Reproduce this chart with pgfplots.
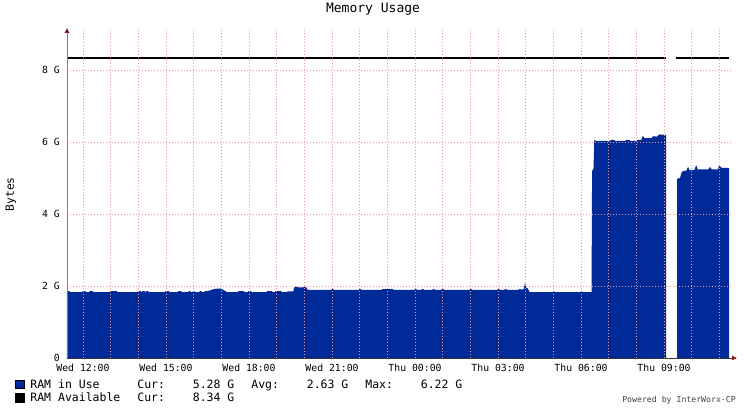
\documentclass[border=0pt]{standalone}
\usepackage{pgfplots}
\pgfplotsset{compat=1.18}
\usepackage{fontspec}
\setmainfont{DejaVu Sans Mono}
\setmonofont{DejaVu Sans Mono}
\usetikzlibrary{arrows.meta}
\definecolor{rrdblue}{RGB}{0,42,151}
\definecolor{gridpink}{RGB}{240,150,150}
\definecolor{arrowred}{RGB}{128,16,16}
\begin{document}
\begin{tikzpicture}
\begin{axis}[
  scale only axis, width=665pt, height=327.6pt,
  xmin=-0.578, xmax=23.457, ymin=0, ymax=9.1,
  axis lines=left,
  axis on top,
  x axis line style={draw=black!80, line width=0.6pt, shorten >=-5pt, -{Latex[length=5pt,width=5pt,color=arrowred]}},
  y axis line style={draw=gray, line width=0.6pt, shorten >=-2.5pt, -{Latex[length=5pt,width=5pt,color=arrowred]}},
  xtick={0,...,23},
  xticklabels={Wed 12:00,,,Wed 15:00,,,Wed 18:00,,,Wed 21:00,,,Thu 00:00,,,Thu 03:00,,,Thu 06:00,,,Thu 09:00,,},
  ytick={0,2,4,6,8},
  yticklabels={0,2 G,4 G,6 G,8 G},
  xmajorgrids, ymajorgrids,
  major grid style={gridpink, line width=0.5pt, dash pattern=on 1pt off 2pt},
  major tick length=0pt,
  xticklabel style={font=\fontsize{9.8}{11}\selectfont, anchor=base, yshift=-13pt, inner sep=0pt},
  yticklabel style={font=\fontsize{9.8}{11}\selectfont, anchor=base east, inner sep=0pt, xshift=-7pt, yshift=-3.3pt},
  title={Memory Usage},
  title style={font=\fontsize{13}{15}\selectfont, at={(axis description cs:0.4602,1.0378)}, anchor=base, inner sep=0pt},
  ylabel={Bytes},
  ylabel style={font=\fontsize{11.3}{13}\selectfont, at={(axis description cs:-0.0842,0.5)}, anchor=center},
  legend style={at={(axis description cs:-0.0782,-0.0656)}, anchor=north west, draw=none, fill=none,
    inner sep=0pt, outer sep=0pt, row sep=1.5pt, column sep=0pt,
    font=\fontsize{11.5}{13}\selectfont,
    nodes={inner sep=0pt, text height=9pt, text depth=3pt, anchor=base west}},
]
\addplot[fill=rrdblue, draw=none, forget plot] table {
x y
-0.578 1.86
-0.50 1.86
-0.45 1.83
-0.05 1.83
0.00 1.86
0.08 1.86
0.12 1.83
0.22 1.83
0.25 1.86
0.35 1.86
0.38 1.83
0.95 1.83
1.00 1.86
1.22 1.86
1.25 1.83
1.97 1.83
2.00 1.86
2.08 1.86
2.11 1.83
2.13 1.83
2.15 1.86
2.22 1.86
2.25 1.83
2.27 1.83
2.28 1.86
2.35 1.86
2.38 1.83
2.95 1.83
2.98 1.86
3.10 1.86
3.13 1.83
3.42 1.83
3.45 1.86
3.54 1.86
3.57 1.83
3.80 1.83
3.83 1.86
3.87 1.86
3.90 1.83
3.95 1.83
3.98 1.86
4.02 1.86
4.05 1.83
4.20 1.83
4.23 1.86
4.28 1.86
4.31 1.83
4.38 1.83
4.41 1.86
4.50 1.86
4.60 1.88
4.75 1.92
4.95 1.93
5.05 1.90
5.15 1.86
5.20 1.83
5.58 1.83
5.62 1.86
5.80 1.86
5.83 1.83
5.95 1.83
5.98 1.86
6.07 1.86
6.10 1.83
6.63 1.83
6.66 1.86
6.83 1.86
6.86 1.83
6.93 1.83
6.96 1.86
7.16 1.86
7.19 1.83
7.36 1.83
7.40 1.85
7.60 1.85
7.63 1.96
7.72 1.98
7.80 1.96
7.95 1.96
8.02 1.98
8.07 1.96
8.12 1.89
8.97 1.89
9.00 1.91
9.05 1.91
9.08 1.89
9.96 1.89
9.99 1.91
10.04 1.91
10.07 1.89
10.78 1.89
10.82 1.91
11.20 1.91
11.24 1.89
11.97 1.89
12.00 1.91
12.05 1.91
12.08 1.89
12.22 1.89
12.25 1.91
12.30 1.91
12.33 1.89
12.62 1.89
12.65 1.91
12.70 1.91
12.73 1.89
12.95 1.89
12.98 1.91
13.03 1.91
13.06 1.89
13.97 1.89
14.00 1.91
14.05 1.91
14.08 1.89
14.97 1.89
15.00 1.91
15.05 1.91
15.08 1.89
15.22 1.89
15.25 1.91
15.30 1.91
15.33 1.89
15.73 1.89
15.76 1.91
15.82 1.91
15.85 1.89
15.93 1.92
15.98 2.09
16.02 1.95
16.08 1.93
16.14 1.83
16.97 1.83
17.00 1.85
17.04 1.85
17.07 1.83
17.97 1.83
18.00 1.85
18.04 1.85
18.07 1.83
18.38 1.83
18.40 5.20
18.45 5.25
18.48 6.06
18.55 6.03
19.05 6.03
19.08 6.06
19.20 6.06
19.23 6.03
19.60 6.03
19.63 6.06
19.75 6.06
19.78 6.03
20.00 6.03
20.05 6.06
20.18 6.06
20.23 6.17
20.30 6.11
20.55 6.11
20.60 6.16
20.75 6.15
20.82 6.21
21.05 6.20
21.08 6.20
} \closedcycle;
\addplot[fill=rrdblue, draw=none, forget plot] table {
x y
21.47 4.98
21.58 5.00
21.63 5.15
21.70 5.20
21.80 5.20
21.87 5.31
21.92 5.22
22.10 5.22
22.16 5.36
22.22 5.24
22.60 5.24
22.66 5.31
22.72 5.24
22.95 5.24
22.99 5.36
23.05 5.30
23.10 5.28
23.35 5.28
} \closedcycle;
\addplot[black, line width=2pt, forget plot] coordinates {(-0.578,8.34) (21.07,8.34)};
\addplot[black, line width=2pt, forget plot] coordinates {(21.43,8.34) (23.35,8.34)};
\addlegendimage{legend image code/.code={\draw[black, line width=0.4pt, fill=rrdblue] (0pt,0pt) rectangle (9pt,8.5pt); \path (15pt,0pt);}}
\addlegendentry{\makebox[107pt][l]{RAM in Use}\makebox[56pt][l]{Cur:}\makebox[41pt][r]{5.28 G}\hspace{17pt}\makebox[56pt][l]{Avg:}\makebox[41pt][r]{2.63 G}\hspace{17pt}\makebox[56pt][l]{Max:}\makebox[41pt][r]{6.22 G}}
\addlegendimage{legend image code/.code={\draw[black, line width=0.4pt, fill=black] (0pt,0pt) rectangle (9pt,8.5pt); \path (15pt,0pt);}}
\addlegendentry{\makebox[107pt][l]{RAM Available}\makebox[56pt][l]{Cur:}\makebox[41pt][r]{8.34 G}}
\end{axis}
\node[anchor=base east, inner sep=0pt, font=\fontsize{8.2}{10}\selectfont, text=black!75] at (669pt,-44pt) {Powered by InterWorx-CP};
\pgfresetboundingbox
\useasboundingbox (-67pt,-54pt) rectangle (679pt,358pt);
\end{tikzpicture}
\end{document}
